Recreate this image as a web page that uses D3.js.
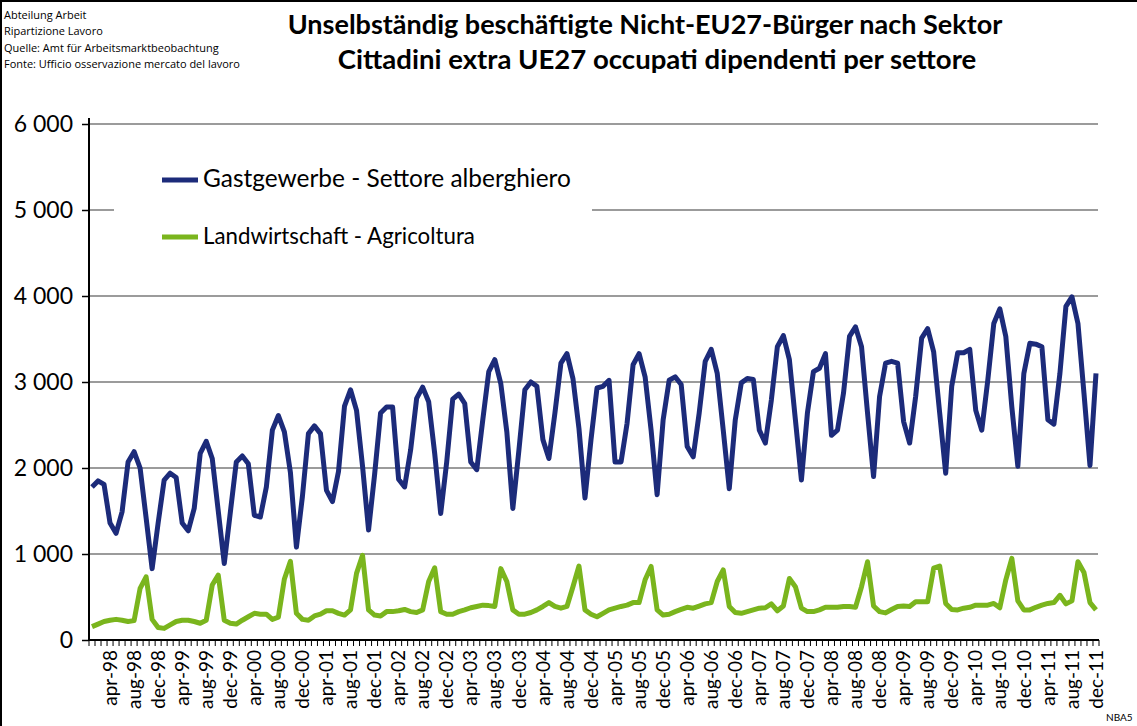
<html>
<head>
<script src="https://d3js.org/d3.v7.min.js"></script>
<style>
  body { margin: 0; background: #fff; }
  svg text { font-family: Lato, "Open Sans", sans-serif; fill: #000; }
</style>
</head>
<body>
<script>
var monthNames = ["jan", "feb", "mar", "apr", "may", "jun", "jul", "aug", "sep", "oct", "nov", "dec"]
var years = ["98", "99", "00", "01", "02", "03", "04", "05", "06", "07", "08", "09", "10", "11"]

// Gastgewerbe - Settore alberghiero (monthly, jan-98 .. dec-11)
var gastgewerbe = [
  1780, 1850, 1810, 1360, 1240, 1490, 2070, 2190, 2000, 1420, 830, 1360,
  1860, 1940, 1890, 1360, 1270, 1530, 2170, 2310, 2110, 1500, 890, 1480,
  2070, 2140, 2050, 1450, 1430, 1780, 2440, 2610, 2420, 1950, 1080, 1670,
  2400, 2490, 2400, 1740, 1610, 1960, 2720, 2910, 2670, 2020, 1280, 1920,
  2640, 2710, 2710, 1870, 1780, 2210, 2810, 2940, 2770, 2170, 1470, 2070,
  2800, 2860, 2750, 2070, 1980, 2560, 3120, 3260, 2980, 2420, 1530, 2200,
  2910, 3000, 2950, 2330, 2110, 2640, 3220, 3330, 3040, 2460, 1650, 2330,
  2930, 2950, 3020, 2070, 2070, 2520, 3200, 3330, 3060, 2440, 1690, 2560,
  3020, 3060, 2970, 2250, 2130, 2640, 3240, 3380, 3100, 2440, 1760, 2560,
  2990, 3040, 3030, 2440, 2290, 2790, 3410, 3540, 3260, 2560, 1860, 2640,
  3120, 3160, 3330, 2380, 2440, 2870, 3530, 3640, 3410, 2640, 1900, 2830,
  3220, 3240, 3220, 2540, 2290, 2830, 3510, 3620, 3350, 2640, 1940, 2950,
  3340, 3340, 3380, 2670, 2440, 3020, 3680, 3850, 3530, 2710, 2020, 3100,
  3450, 3440, 3410, 2560, 2510, 3100, 3880, 3990, 3680, 2870, 2030, 3100
]

// Landwirtschaft - Agricoltura
var landwirtschaft = [
  155, 185, 215, 230, 240, 230, 215, 225, 600, 735, 240, 145,
  135, 175, 215, 230, 230, 215, 195, 230, 640, 755, 230, 195,
  185, 230, 270, 310, 300, 300, 240, 265, 710, 915, 310, 240,
  230, 280, 300, 340, 340, 310, 290, 350, 775, 985, 350, 290,
  280, 330, 330, 340, 355, 330, 320, 350, 680, 840, 330, 300,
  300, 330, 350, 375, 390, 405, 400, 390, 830, 680, 350, 300,
  300, 320, 350, 390, 435, 390, 370, 390, 620, 860, 350, 300,
  270, 310, 350, 370, 390, 405, 435, 435, 700, 855, 350, 290,
  300, 330, 355, 380, 370, 395, 420, 435, 680, 815, 390, 320,
  310, 330, 350, 370, 375, 420, 340, 395, 715, 620, 370, 330,
  330, 350, 380, 380, 380, 390, 390, 380, 620, 910, 395, 330,
  315, 355, 390, 395, 390, 445, 445, 445, 835, 860, 425, 355,
  350, 370, 380, 405, 405, 405, 425, 375, 700, 950, 455, 350,
  350, 380, 405, 425, 435, 520, 420, 455, 910, 785, 435, 350
]

var yTicks = [0, 1000, 2000, 3000, 4000, 5000, 6000]
var seriesNames = ["Gastgewerbe - Settore alberghiero", "Landwirtschaft - Agricoltura"]
var colors = ["#1c2b7a", "#7ab51d"]
var header = ["Abteilung Arbeit", "Ripartizione Lavoro", "Quelle: Amt für Arbeitsmarktbeobachtung", "Fonte: Ufficio osservazione mercato del lavoro"]
var titles = ["Unselbständig beschäftigte Nicht-EU27-Bürger nach Sektor", "Cittadini extra UE27 occupati dipendenti per settore"]

var months = []
years.forEach(function(yr) { monthNames.forEach(function(m) { months.push(m + "-" + yr) }) })

var svg = d3.select("body").append("svg")
  .attr("width", 1137)
  .attr("height", 726)

// scale a text so it spans a given width
function fit(t, w) {
  var len = t.node().getComputedTextLength()
  t.attr("font-size", parseFloat(t.attr("font-size")) * w / len)
}

// frame
svg.append("rect")
  .attr("x", 1).attr("y", 1).attr("width", 1160).attr("height", 760)
  .attr("fill", "none").attr("stroke", "#000").attr("stroke-width", 2)

var hdr = svg.append("g")
header.forEach(function(s, i) {
  hdr.append("text").attr("x", 4).attr("y", 19 + i * 16.4)
    .attr("font-size", 11).style("font-family", "'Open Sans', sans-serif").text(s)
})
var q = hdr.select("text:nth-child(3)")
fit(q, 215)
hdr.selectAll("text").attr("font-size", q.attr("font-size"))

var tw = [[645, 715], [657, 639]]
titles.forEach(function(s, i) {
  var t = svg.append("text").attr("x", tw[i][0]).attr("y", 34 + i * 35)
    .attr("text-anchor", "middle").attr("font-weight", "bold").attr("font-size", 24).text(s)
  fit(t, tw[i][1])
})

var x = d3.scaleBand().domain(months).range([89, 1099])
var y = d3.scaleLinear().domain([0, 6000]).range([640, 124])

// gridlines
svg.append("g").selectAll("line")
  .data(yTicks.slice(1))
  .enter().append("line")
    .attr("x1", 89).attr("x2", 1098)
    .attr("y1", function(d) { return y(d) }).attr("y2", function(d) { return y(d) })
    .attr("stroke", "#7a7a7a").attr("stroke-width", 1.5)

// legend box hides part of the 5000 gridline
svg.append("rect").attr("x", 114).attr("y", 150).attr("width", 478).attr("height", 108).attr("fill", "#fff")

// y axis
var yAxis = svg.append("g").attr("transform", "translate(89,0)")
  .call(d3.axisLeft(y).tickValues(yTicks).tickSize(7).tickPadding(9)
    .tickFormat(function(d) { return d3.format(",")(d).replace(/,/g, " ") }))
yAxis.select(".domain").attr("stroke-width", 2).attr("d", "M0,118V640")
yAxis.selectAll(".tick line").attr("stroke-width", 1.5)
yAxis.selectAll("text").attr("font-size", 23).style("font-family", "Lato, sans-serif")

// x axis: ticks at month boundaries, labels every 4th month
var xAxis = svg.append("g").attr("transform", "translate(0,640)")
xAxis.selectAll("line.t")
  .data(months.concat(["end"]))
  .enter().append("line").attr("class", "t")
    .attr("x1", function(d, i) { return i < months.length ? x(d) : x.range()[1] })
    .attr("x2", function(d, i) { return i < months.length ? x(d) : x.range()[1] })
    .attr("y1", 0).attr("y2", 6).attr("stroke", "#000").attr("stroke-width", 1)
xAxis.append("line").attr("x1", 89).attr("x2", 1099).attr("stroke", "#000").attr("stroke-width", 2)
xAxis.selectAll("text")
  .data(months.filter(function(d, i) { return i % 4 == 3 }))
  .enter().append("text")
    .attr("transform", function(d) { return "translate(" + (x(d) + x.bandwidth() / 2) + ",10) rotate(-90)" })
    .attr("text-anchor", "end").attr("dy", "0.35em")
    .attr("font-size", 19)
    .text(function(d) { return d })

// lines
var line = d3.line()
  .x(function(d, i) { return x(months[i]) + x.bandwidth() / 2 })
  .y(function(d) { return y(d) })

;[gastgewerbe, landwirtschaft].forEach(function(s, k) {
  svg.append("path").datum(s)
    .attr("d", line)
    .attr("fill", "none").attr("stroke", colors[k]).attr("stroke-width", 5)
    .attr("stroke-linejoin", "round")
})

// legend
seriesNames.forEach(function(n, i) {
  var ly = 180 + i * 57
  svg.append("line").attr("x1", 162).attr("x2", 198).attr("y1", ly).attr("y2", ly)
    .attr("stroke", colors[i]).attr("stroke-width", 5)
  var t = svg.append("text").attr("x", 203).attr("y", ly + 7).attr("font-size", 20).text(n)
  fit(t, i == 0 ? 368 : 272)
})

svg.append("text").attr("x", 1106).attr("y", 721).attr("font-size", 10).text("NBA5")
</script>
</body>
</html>
